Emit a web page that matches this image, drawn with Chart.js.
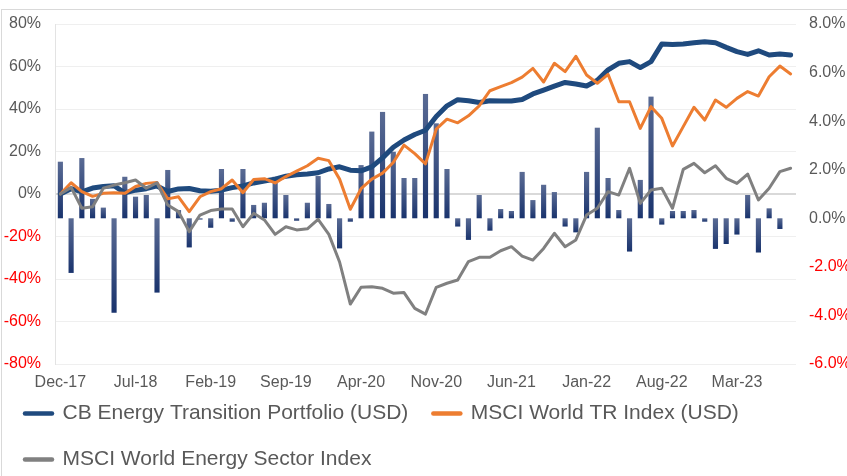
<!DOCTYPE html>
<html>
<head>
<meta charset="utf-8">
<script src="https://cdn.jsdelivr.net/npm/chart.js@4.4.1/dist/chart.umd.min.js"></script>
<style>
  html, body { margin: 0; padding: 0; background: #fff; }
  #wrap { width: 847px; height: 476px; }
</style>
</head>
<body>
<div id="wrap"><canvas id="chart" width="847" height="476"></canvas></div>
<script>
// monthly points, Dec-17 .. Aug-23
const months = [
  'Dec-17','Jan-18','Feb-18','Mar-18','Apr-18','May-18','Jun-18','Jul-18','Aug-18','Sep-18','Oct-18','Nov-18',
  'Dec-18','Jan-19','Feb-19','Mar-19','Apr-19','May-19','Jun-19','Jul-19','Aug-19','Sep-19','Oct-19','Nov-19',
  'Dec-19','Jan-20','Feb-20','Mar-20','Apr-20','May-20','Jun-20','Jul-20','Aug-20','Sep-20','Oct-20','Nov-20',
  'Dec-20','Jan-21','Feb-21','Mar-21','Apr-21','May-21','Jun-21','Jul-21','Aug-21','Sep-21','Oct-21','Nov-21',
  'Dec-21','Jan-22','Feb-22','Mar-22','Apr-22','May-22','Jun-22','Jul-22','Aug-22','Sep-22','Oct-22','Nov-22',
  'Dec-22','Jan-23','Feb-23','Mar-23','Apr-23','May-23','Jun-23','Jul-23','Aug-23'
];

// cumulative performance, left axis (%)
const portfolio = [
  0, 2.5, 1.0, 2.8, 3.5, 3.9, 0.5, 1.8, 2.5, 3.8,
  1.2, 2.4, 2.6, 1.5, 1.3, 1.8, 3.0, 3.8, 5.2, 6.1,
  7.0, 8.4, 9.1, 9.4, 10.0, 11.8, 12.8, 11.2, 10.9, 12.8,
  17.0, 22.0, 25.4, 28.0, 30.0, 36.5, 41.5, 44.4, 43.9, 43.1,
  43.9, 43.8, 43.8, 44.5, 47.1, 48.9, 50.8, 52.5, 51.8, 50.8,
  53.5, 58.4, 61.5, 62.3, 59.5, 62.3, 70.6, 70.3, 70.6, 71.2,
  71.7, 71.2, 69.0, 67.0, 65.7, 67.4, 65.4, 65.9, 65.4
];
const msciWorld = [
  0, 5.3, 1.1, -1.1, 0.3, 0.6, 0.3, 3.5, 5.0, 5.4,
  -2.3, -1.3, -8.3, -1.3, 1.1, 2.5, 6.6, 0.6, 6.8, 7.2,
  5.2, 8.2, 10.8, 13.3, 16.8, 15.7, 7.0, -7.2, 2.5, 7.0,
  9.8, 14.8, 23.0, 19.0, 14.2, 30.5, 35.2, 33.5, 36.8, 41.5,
  48.6, 50.5, 52.4, 55.0, 59.1, 52.7, 61.5, 57.6, 64.8, 56.0,
  52.1, 56.3, 43.4, 43.4, 30.9, 41.1, 35.6, 22.6, 31.7, 40.8,
  34.8, 44.2, 40.8, 45.0, 48.2, 46.1, 55.2, 60.2, 56.5
];
const msciEnergy = [
  0, 3.1, -6.7, -6.0, 2.7, 4.2, 5.3, 6.6, 2.7, 5.3,
  -5.2, -8.3, -17.7, -9.9, -7.8, -7.1, -7.1, -15.4, -9.1, -12.2,
  -19.0, -15.4, -16.9, -16.4, -11.9, -19.0, -32.0, -51.8, -43.9, -43.6,
  -44.4, -46.7, -46.4, -53.8, -56.5, -43.9, -42.0, -40.5, -31.8, -29.8,
  -29.8, -26.7, -24.8, -29.2, -31.1, -25.6, -18.5, -24.8, -21.6, -9.9,
  -6.7, 1.1, -0.5, 12.1, -4.4, 1.9, 2.7, -6.7, 11.6, 14.4,
  10.0, 13.3, 7.4, 5.0, 9.4, -2.8, 2.7, 10.5, 12.1
];

// monthly portfolio return, right axis (%)
const monthlyReturn = [
  2.33, -2.25, 2.48, 0.8, 0.44, -3.89, 1.71, 0.89, 0.96, -3.06,
  1.99, 0.34, -1.2, -0.05, -0.39, 2.03, -0.14, 2.03, 0.55, 0.64,
  1.71, 0.96, -0.1, 0.64, 1.74, 0.59, -1.24, -0.14, 2.19, 3.57,
  4.38, 2.74, 1.66, 1.66, 5.12, 3.91, 2.03, -0.34, -0.89, 0.96,
  -0.51, 0.38, 0.3, 1.91, 0.75, 1.38, 1.08, -0.34, -0.58, 1.91,
  3.73, 1.66, 0.34, -1.37, 1.58, 5.01, -0.26, 0.3, 0.3, 0.34,
  -0.14, -1.26, -1.06, -0.67, 0.96, -1.41, 0.41, -0.44, null
];

const seriesNames = ['CB Energy Transition Portfolio (USD)', 'MSCI World TR Index (USD)', 'MSCI World Energy Sector Index'];

const FONT = "'Liberation Sans', Arial, sans-serif";
const GREY_TXT = '#595959';
const RED_TXT = '#ff0000';
const BAR_TOP = '#5a6b94';
const BAR_BOTTOM = '#19336d';

// light frame around the chart, like the exported picture
const framePlugin = {
  id: 'frame',
  beforeDraw(chart) {
    const ctx = chart.ctx;
    ctx.save();
    ctx.fillStyle = '#fff';
    ctx.fillRect(0, 0, chart.width, chart.height);
    ctx.strokeStyle = '#d9d9d9';
    ctx.lineWidth = 1;
    ctx.strokeRect(1.5, 9.5, chart.width + 10, chart.height + 10);
    ctx.restore();
  }
};

const barFill = (c) => {
  const chart = c.chart;
  const y2 = chart.scales.y2;
  const v = monthlyReturn[c.dataIndex];
  if (!chart.chartArea || !y2 || v == null) return BAR_BOTTOM;
  const top = y2.getPixelForValue(Math.max(v, 0));
  const bottom = y2.getPixelForValue(Math.min(v, 0));
  if (!isFinite(top) || !isFinite(bottom) || bottom - top < 1) return BAR_BOTTOM;
  const g = chart.ctx.createLinearGradient(0, top, 0, bottom);
  g.addColorStop(0, BAR_TOP);
  g.addColorStop(1, BAR_BOTTOM);
  return g;
};

const lineDs = (label, data, color, width, order) => ({
  type: 'line',
  label,
  data,
  yAxisID: 'y',
  borderColor: color,
  backgroundColor: color,
  borderWidth: width,
  pointRadius: 0,
  pointHoverRadius: 0,
  tension: 0,
  borderJoinStyle: 'round',
  borderCapStyle: 'round',
  order
});

new Chart(document.getElementById('chart'), {
  data: {
    labels: months,
    datasets: [
      lineDs(seriesNames[0], portfolio, '#1f4a7e', 5, 3),
      lineDs(seriesNames[1], msciWorld, '#ed7d31', 3, 2),
      lineDs(seriesNames[2], msciEnergy, '#808080', 3, 1),
      {
        type: 'bar',
        label: 'Monthly return',
        data: monthlyReturn,
        yAxisID: 'y2',
        backgroundColor: barFill,
        borderWidth: 0,
        categoryPercentage: 1,
        barPercentage: 0.48,
        order: 10
      }
    ]
  },
  options: {
    responsive: false,
    animation: false,
    layout: { padding: { top: 24, left: 0, right: 0, bottom: -4 } },
    plugins: {
      tooltip: { enabled: false },
      legend: {
        position: 'bottom',
        align: 'start',
        labels: {
          filter: (item) => item.datasetIndex < 3,
          sort: (a, b) => a.datasetIndex - b.datasetIndex,
          generateLabels: (chart) =>
            Chart.defaults.plugins.legend.labels.generateLabels(chart).map((l) => ({ ...l, lineWidth: 4.5, lineCap: 'round' })),
          usePointStyle: true,
          pointStyle: 'line',
          pointStyleWidth: 27,
          padding: 25,
          color: GREY_TXT,
          font: { family: FONT, size: 21 }
        }
      }
    },
    scales: {
      x: {
        offset: true,
        grid: { display: false, drawTicks: false },
        border: { display: false },
        ticks: {
          autoSkip: false,
          maxRotation: 0,
          mirror: true,
          padding: -28,
          color: GREY_TXT,
          font: { family: FONT, size: 16 },
          callback: (v, i) => (i % 7 === 0 ? months[i] : '')
        },
        afterFit: (s) => { s.height = 14; }
      },
      y: {
        position: 'left',
        min: -80,
        max: 80,
        ticks: {
          stepSize: 20,
          padding: 14,
          color: (c) => (c.tick.value < 0 ? RED_TXT : GREY_TXT),
          font: { family: FONT, size: 16 },
          callback: (v) => v + '%'
        },
        grid: {
          drawTicks: false,
          color: (c) => (c.tick.value === 0 ? '#d9d9d9' : '#efefef'),
          lineWidth: (c) => (c.tick.value === 0 ? 2 : 1)
        },
        border: { display: true, color: '#e3e3e3' },
        afterFit: (s) => { s.width = 55; }
      },
      y2: {
        position: 'right',
        min: -6,
        max: 8,
        ticks: {
          stepSize: 2,
          padding: 13,
          color: (c) => (c.tick.value < 0 ? RED_TXT : GREY_TXT),
          font: { family: FONT, size: 16 },
          callback: (v) => v.toFixed(1) + '%'
        },
        grid: { display: false, drawTicks: false },
        border: { display: false },
        afterFit: (s) => { s.width = 51; }
      }
    }
  },
  plugins: [framePlugin]
});
</script>
</body>
</html>
